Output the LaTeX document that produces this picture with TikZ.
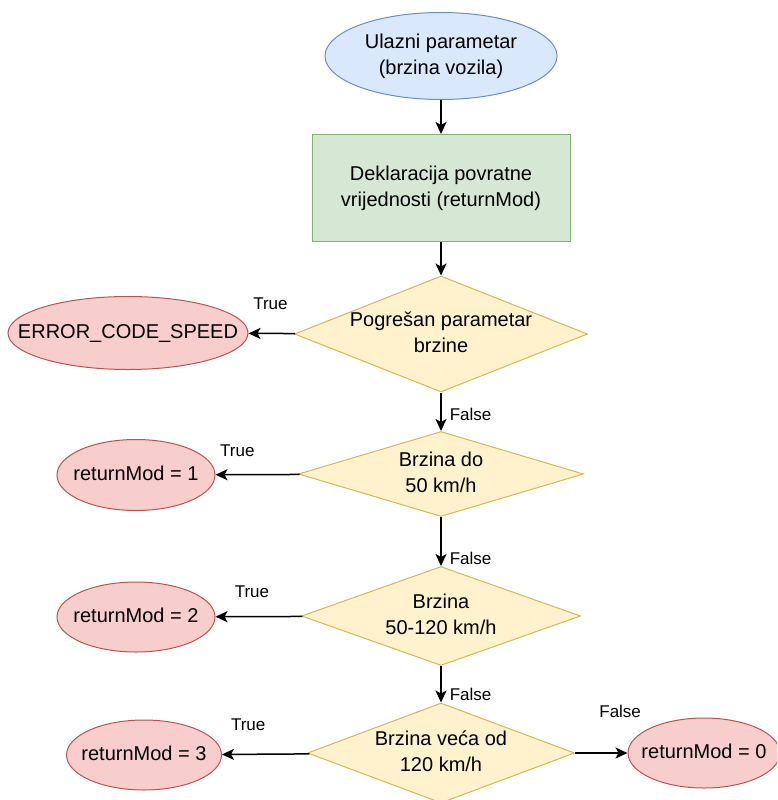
\documentclass[tikz,border=0pt]{standalone}
\usepackage{fontspec}
\setmainfont{Liberation Sans}
\usetikzlibrary{shapes.geometric,arrows.meta}

\definecolor{bluefill}{HTML}{DAE8FC}
\definecolor{blueline}{HTML}{6C8EBF}
\definecolor{greenfill}{HTML}{D5E8D4}
\definecolor{greenline}{HTML}{82B366}
\definecolor{yellowfill}{HTML}{FFF2CC}
\definecolor{yellowline}{HTML}{D6B656}
\definecolor{redfill}{HTML}{F8CECC}
\definecolor{redline}{HTML}{B85450}

\newcommand{\boxtxt}[1]{\makebox[0pt]{\begin{tabular}{@{}c@{}}#1\end{tabular}}}

\begin{document}
\begin{tikzpicture}[x=1pt,y=-1pt,>={Stealth[length=12pt,width=11pt,inset=3pt]},
  font=\fontsize{20}{26}\selectfont,
  startnode/.style={ellipse,draw=blueline,fill=bluefill,line width=1pt,inner sep=0pt},
  declbox/.style={rectangle,draw=greenline,fill=greenfill,line width=1pt,inner sep=0pt},
  decision/.style={diamond,draw=yellowline,fill=yellowfill,line width=1pt,inner sep=0pt},
  result/.style={ellipse,draw=redline,fill=redfill,line width=1pt,inner sep=0pt},
  lbl/.style={font=\fontsize{17}{20}\selectfont,inner sep=0pt},
  flow/.style={->,line width=1.5pt}]

\clip (0,0) rectangle (777,800);

\node[startnode, minimum width=232, minimum height=87] (start) at (441,56) {\boxtxt{Ulazni parametar\\(brzina vozila)}};
\node[declbox, minimum width=258, minimum height=107] (decl) at (441,188) {\boxtxt{Deklaracija povratne\\vrijednosti (returnMod)}};

\node[decision, minimum width=293, minimum height=116] (d1) at (441,334) {\boxtxt{Pogrešan parametar\\brzine}};
\node[decision, minimum width=285, minimum height=85] (d2) at (441,474) {\boxtxt{Brzina do\\50 km/h}};
\node[decision, minimum width=279, minimum height=99] (d3) at (441,616) {\boxtxt{Brzina\\50-120 km/h}};
\node[decision, minimum width=267, minimum height=100] (d4) at (441,753) {\boxtxt{Brzina veća od\\120 km/h}};

\node[result, minimum width=240, minimum height=73] (err) at (128,333) {\boxtxt{ERROR\_CODE\_SPEED}};
\node[result, minimum width=158, minimum height=71] (r1) at (136,475) {\boxtxt{returnMod = 1}};
\node[result, minimum width=158, minimum height=70] (r2) at (136,617) {\boxtxt{returnMod = 2}};
\node[result, minimum width=155, minimum height=70] (r3) at (144,755) {\boxtxt{returnMod = 3}};
\node[result, minimum width=152, minimum height=70] (r0) at (704,753) {\boxtxt{returnMod = 0}};

\draw[flow] (start) -- (decl);
\draw[flow] (decl) -- (d1);

\draw[flow] (d1) -- node[lbl, pos=.53, above=23pt] {True} (err);
\draw[flow] (d1) -- node[lbl, pos=.58, right=8pt] {False} (d2);
\draw[flow] (d2) -- node[lbl, pos=.74, above=17pt] {True} (r1);
\draw[flow] (d2) -- node[lbl, pos=.84, right=8pt] {False} (d3);
\draw[flow] (d3) -- node[lbl, pos=.58, above=18pt] {True} (r2);
\draw[flow] (d3) -- node[lbl, pos=.78, right=8pt] {False} (d4);
\draw[flow] (d4) -- node[lbl, pos=.7, above=23pt] {True} (r3);
\draw[flow] (d4) -- node[lbl, pos=.86, above=35pt] {False} (r0);

\end{tikzpicture}
\end{document}
